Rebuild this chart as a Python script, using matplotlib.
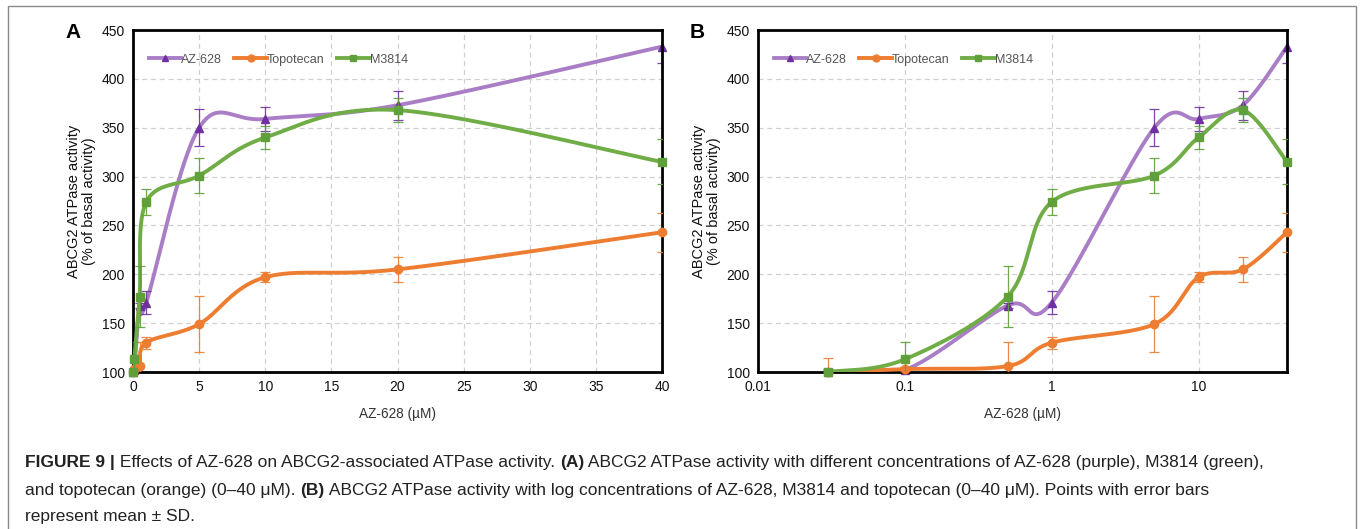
import numpy as np
import matplotlib
matplotlib.use('Agg')
import matplotlib.pyplot as plt
from matplotlib.lines import Line2D
from matplotlib.patches import Rectangle

# concentrations (uM) and mean +- SD
conc = [0.03, 0.1, 0.5, 1, 5, 10, 20, 40]
az628 = [100, 102, 168, 171, 350, 359, 373, 433]
az628_sd = [3, 3, 3, 12, 19, 12, 15, 17]
topotecan = [100, 103, 106, 130, 149, 197, 205, 243]
topotecan_sd = [14, 2, 25, 6, 29, 5, 13, 20]
m3814 = [100, 113, 177, 274, 301, 340, 368, 315]
m3814_sd = [2, 18, 31, 13, 18, 12, 12, 23]

series_names = ['AZ-628', 'Topotecan', 'M3814']
line_colors = ['#A97EC6', '#ED7D31', '#70AD47']
mark_colors = ['#7030A0', '#ED7D31', '#5FA03A']
markers = ['^', 'o', 's']

yticks = [100, 150, 200, 250, 300, 350, 400, 450]

plt.rcParams['font.family'] = ['Liberation Sans', 'DejaVu Sans']

W, H = 1360, 529
fig = plt.figure(figsize=(W / 100, H / 100), dpi=100)


# Excel-like smoothed line: cubic bezier with catmull-rom control points,
# computed in (approximate) pixel space of the axes
def smooth_curve(px, py, n=60):
    P = np.column_stack([px, py])
    E = np.vstack([P[0], P, P[-1]])
    segs = []
    t = np.linspace(0, 1, n)[:, None]
    for i in range(len(P) - 1):
        p0, p1, p2, p3 = E[i], E[i + 1], E[i + 2], E[i + 3]
        c1 = p1 + (p2 - p0) / 6
        c2 = p2 - (p3 - p1) / 6
        seg = (1 - t) ** 3 * p1 + 3 * (1 - t) ** 2 * t * c1 + 3 * (1 - t) * t ** 2 * c2 + t ** 3 * p2
        segs.append(seg if i == 0 else seg[1:])
    return np.vstack(segs)


def draw_panel(ax, logx):
    x = np.array(conc, dtype=float)
    if logx:
        fx = (np.log10(x) + 2) / np.log10(4000) * 529
    else:
        fx = x / 40 * 529
    data = [(az628, az628_sd), (topotecan, topotecan_sd), (m3814, m3814_sd)]
    for k, (vals, sd) in enumerate(data):
        y = np.array(vals, dtype=float)
        fy = (y - 100) / 350 * 342
        c = smooth_curve(fx, fy)
        if logx:
            cx = 10 ** (c[:, 0] / 529 * np.log10(4000) - 2)
        else:
            cx = c[:, 0] / 529 * 40
        cy = c[:, 1] / 342 * 350 + 100
        ax.plot(cx, cy, color=line_colors[k], lw=2.8, zorder=2 + k, solid_capstyle='round')
        ax.errorbar(x, y, yerr=sd, fmt='none', ecolor=mark_colors[k], elinewidth=0.9,
                    capsize=3.5, capthick=0.9, alpha=0.9, zorder=2 + k)
        ax.plot(x, y, ls='none', marker=markers[k], color=mark_colors[k], ms=6,
                zorder=2 + k, clip_on=False)

    if logx:
        ax.set_xscale('log')
        ax.set_xlim(0.01, 40)
        ax.set_xticks([0.01, 0.1, 1, 10])
        ax.set_xticklabels(['0.01', '0.1', '1', '10'])
        ax.xaxis.set_minor_locator(matplotlib.ticker.NullLocator())
    else:
        ax.set_xlim(0, 40)
        ax.set_xticks(range(0, 45, 5))
    ax.set_ylim(100, 450)
    ax.set_yticks(yticks)
    ax.grid(True, ls=(0, (4, 3)), color='#D0D0D0', lw=0.9)
    ax.set_axisbelow(True)
    ax.tick_params(length=0, labelsize=10, pad=6, colors='#111111')
    for s in ax.spines.values():
        s.set_linewidth(2.0)
        s.set_color('#000000')
    ax.set_xlabel('AZ-628 (µM)', fontsize=9.8, color='#333333', labelpad=9)
    ax.set_ylabel('ABCG2 ATPase activity\n(% of basal activity)', fontsize=10.5,
                  color='#111111', labelpad=4, linespacing=1.1)

    handles = [Line2D([], [], color=line_colors[k], lw=2.8, marker=markers[k],
                      mfc=mark_colors[k], mec=mark_colors[k], ms=5) for k in range(3)]
    ax.legend(handles, series_names, loc='upper left', ncol=3, frameon=False,
              fontsize=9, handlelength=2.6, handletextpad=0.0, columnspacing=1.0,
              borderaxespad=0.0, bbox_to_anchor=(0.02, 0.945), labelcolor='#555555')


axA = fig.add_axes([133 / W, 1 - 372 / H, 529 / W, 342 / H])
axB = fig.add_axes([758 / W, 1 - 372 / H, 529 / W, 342 / H])
draw_panel(axA, False)
draw_panel(axB, True)

fig.text(73 / W, 1 - 33 / H, 'A', fontsize=15, fontweight='bold', ha='center', va='center')
fig.text(697 / W, 1 - 33 / H, 'B', fontsize=15, fontweight='bold', ha='center', va='center')

# outer frame
fig.add_artist(Rectangle((8 / W, -0.02), (1356 - 8) / W, 1.02 - 6 / H, transform=fig.transFigure,
                         fill=False, ec='#8A8A8A', lw=1.0))

# caption with mixed bold / regular runs
caption = [
    [('FIGURE 9 |', 'bold'), (' Effects of AZ-628 on ABCG2-associated ATPase activity. ', 'normal'),
     ('(A)', 'bold'),
     (' ABCG2 ATPase activity with different concentrations of AZ-628 (purple), M3814 (green),', 'normal')],
    [('and topotecan (orange) (0–40 μM). ', 'normal'), ('(B)', 'bold'),
     (' ABCG2 ATPase activity with log concentrations of AZ-628, M3814 and topotecan (0–40 μM). Points with error bars', 'normal')],
    [('represent mean ± SD.', 'normal')],
]
renderer = fig.canvas.get_renderer()
line_y = [463, 490, 517]
for row, yy in zip(caption, line_y):
    xpos = 25
    for txt, wgt in row:
        t = fig.text(xpos / W, 1 - yy / H, txt, fontsize=12.5, fontweight=wgt,
                     color='#222222', ha='left', va='center')
        bb = t.get_window_extent(renderer=renderer)
        xpos += bb.width

fig.savefig('out.png', dpi=100)
